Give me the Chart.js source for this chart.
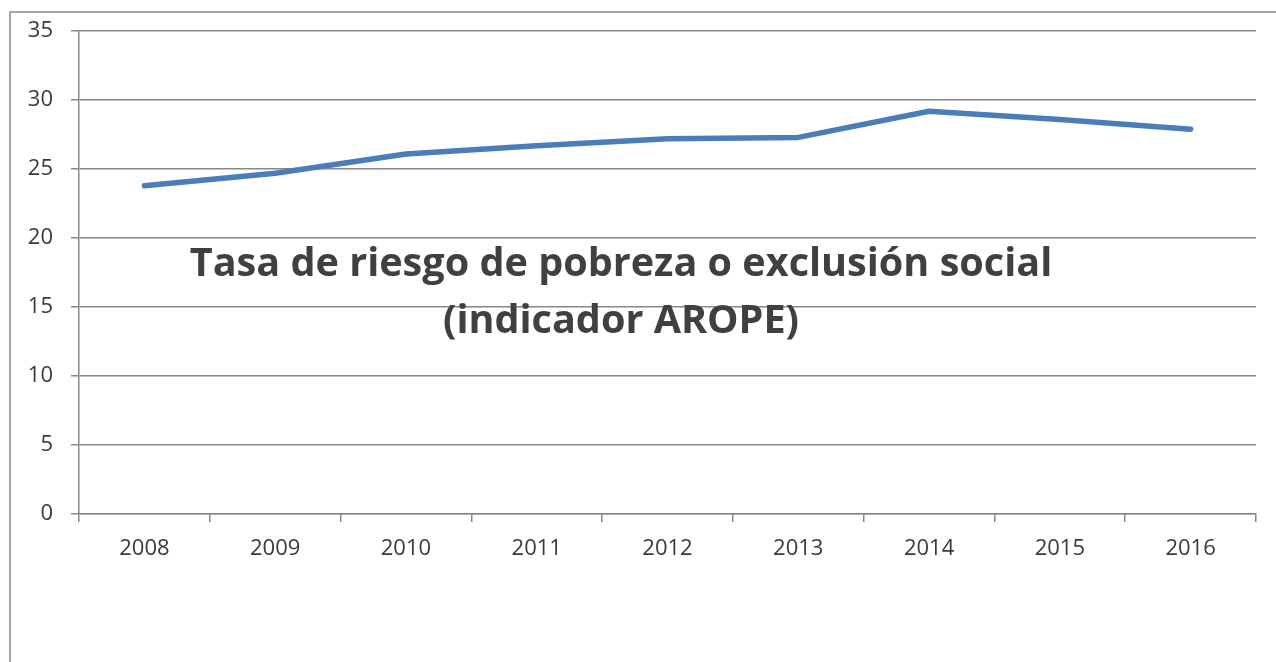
<!DOCTYPE html>
<html>
<head>
<meta charset="utf-8">
<script src="https://cdn.jsdelivr.net/npm/chart.js@4"></script>
<style>
html,body{margin:0;padding:0;background:#fff;}
#wrap{width:1276px;height:662px;position:relative;}
</style>
</head>
<body>
<div id="wrap"><canvas id="c" width="1276" height="662"></canvas></div>
<script>
const years = ['2008','2009','2010','2011','2012','2013','2014','2015','2016'];
const aropeRate = [23.8, 24.7, 26.1, 26.7, 27.2, 27.3, 29.2, 28.6, 27.9];
const titleLines = ['Tasa de riesgo de pobreza o exclusión social', '(indicador AROPE)'];
const yMin = 0, yMax = 35, yStep = 5;

const frame = {
  id: 'frame',
  beforeDraw(chart) {
    const ctx = chart.ctx;
    ctx.save();
    ctx.strokeStyle = '#888888';
    ctx.lineWidth = 1.5;
    ctx.beginPath();
    ctx.moveTo(10, 700);
    ctx.lineTo(10, 12);
    ctx.lineTo(1300, 12);
    ctx.stroke();
    ctx.restore();
  }
};
const overlayTitle = {
  id: 'overlayTitle',
  afterDraw(chart) {
    const ctx = chart.ctx;
    ctx.save();
    ctx.fillStyle = '#404040';
    ctx.font = 'bold 39.6px "Open Sans"';
    ctx.textAlign = 'center';
    ctx.textBaseline = 'alphabetic';
    ctx.fillText(titleLines[0], 621, 276);
    ctx.fillText(titleLines[1], 621, 333);
    ctx.restore();
  }
};

new Chart(document.getElementById('c'), {
  type: 'line',
  data: {
    labels: years,
    datasets: [{
      data: aropeRate,
      borderColor: '#4A7EBB',
      borderWidth: 5.5,
      pointRadius: 0,
      tension: 0,
      borderCapStyle: 'round',
      borderJoinStyle: 'round',
      fill: false
    }]
  },
  options: {
    responsive: false,
    animation: false,
    devicePixelRatio: 1,
    layout: { padding: { top: 31, right: 20, bottom: 0, left: 0 } },
    plugins: { legend: { display: false }, tooltip: { enabled: false }, title: { display: false } },
    scales: {
      x: {
        offset: true,
        grid: { offset: true, drawOnChartArea: false, drawTicks: true, tickLength: 8, color: '#888888', lineWidth: 1.5 },
        border: { display: true, color: '#888888', width: 1.5 },
        ticks: { color: '#3a3a3a', font: { family: 'Open Sans', size: 22 }, padding: 14, maxRotation: 0, autoSkip: false },
        afterFit(s) { s.height = 148; }
      },
      y: {
        min: yMin, max: yMax,
        grid: { color: '#888888', lineWidth: 1.5, tickLength: 8 },
        border: { display: true, color: '#888888', width: 1.5 },
        ticks: { stepSize: yStep, color: '#3a3a3a', font: { family: 'Open Sans', size: 22 }, padding: 18 },
        afterFit(s) { s.width = 79; }
      }
    }
  },
  plugins: [frame, overlayTitle]
});
</script>
</body>
</html>
